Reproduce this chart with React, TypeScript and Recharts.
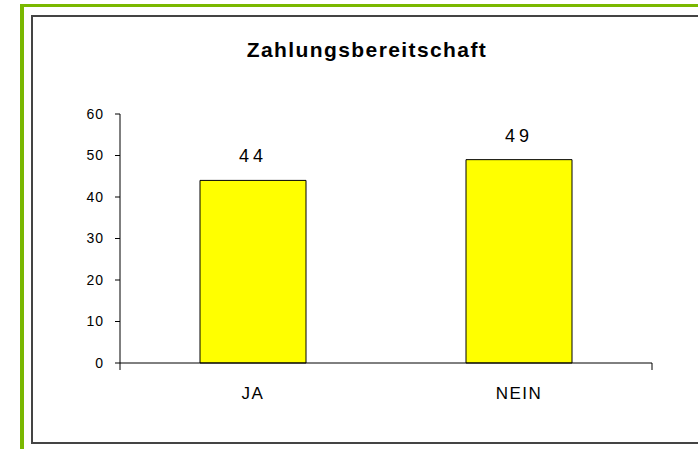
import React from 'react';
import { BarChart, Bar, XAxis, YAxis, LabelList } from 'recharts';

const categories = ['JA', 'NEIN'];
const answers = [44, 49];
const yTicks = [0, 10, 20, 30, 40, 50, 60];
const boundaryTicks = [0, 1, 2];

const data = categories.map((name, i) => ({ name, value: answers[i] }));

const font = 'Arial, "Liberation Sans", sans-serif';

export default function App() {
  return (
    <div style={{ position: 'absolute', left: 0, top: 0, width: 698, height: 449, background: '#fff', overflow: 'hidden', fontFamily: font }}>
      {/* green frame */}
      <div style={{ position: 'absolute', left: 20, top: 4, width: 678, height: 3, background: '#7ab800' }} />
      <div style={{ position: 'absolute', left: 20, top: 4, width: 4, height: 445, background: '#7ab800' }} />
      {/* chart area border */}
      <div style={{ position: 'absolute', left: 31, top: 15, width: 700, height: 425, border: '2px solid #444' }} />

      <div style={{ position: 'absolute', left: 117, top: 38, width: 500, textAlign: 'center', fontSize: 21, fontWeight: 'bold', letterSpacing: 1.4, color: '#000' }}>
        Zahlungsbereitschaft
      </div>

      <div style={{ position: 'absolute', left: 0, top: 0 }}>
        <BarChart width={698} height={449} data={data} margin={{ top: 114, right: 46, bottom: 84, left: 80 }}>
          <XAxis
            xAxisId="bounds"
            type="number"
            domain={[0, 2]}
            ticks={boundaryTicks}
            tickFormatter={() => ''}
            tickSize={7}
            height={1}
            stroke="#000"
          />
          <XAxis
            xAxisId="cat"
            dataKey="name"
            height={1}
            axisLine={false}
            tickLine={false}
            tickMargin={17}
            tick={{ fill: '#000', fontSize: 17, fontFamily: font, letterSpacing: 1.5 }}
          />
          <YAxis
            domain={[0, 60]}
            ticks={yTicks}
            width={40}
            tickSize={5}
            tickMargin={11}
            stroke="#000"
            tick={{ fill: '#000', fontSize: 14, fontFamily: font, letterSpacing: 1 }}
          />
          <Bar dataKey="value" xAxisId="cat" barSize={106} fill="#ffff00" stroke="#000" strokeWidth={1} isAnimationActive={false}>
            <LabelList dataKey="value" position="top" offset={18} fill="#000" fontSize={18} fontFamily={font} style={{ letterSpacing: 4 }} />
          </Bar>
        </BarChart>
      </div>
    </div>
  );
}
